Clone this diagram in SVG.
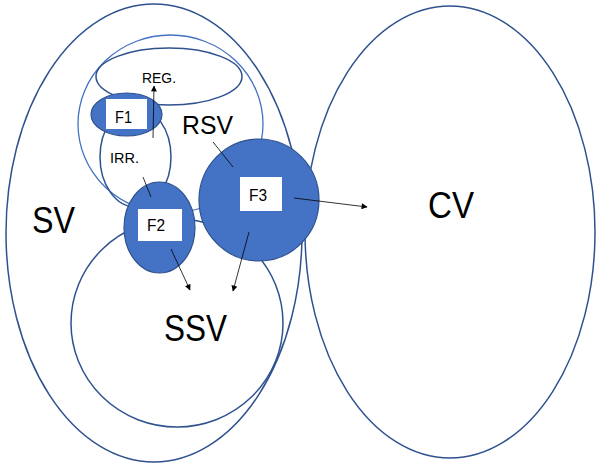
<svg xmlns="http://www.w3.org/2000/svg" width="596" height="467" viewBox="0 0 596 467">
  <style>
    .set { fill: none; stroke: #2F528F; stroke-width: 1.5; }
    .setlight { fill: none; stroke: #4472C4; stroke-width: 1.3; }
    .fn { fill: #4472C4; stroke: #2F528F; stroke-width: 1.2; }
    .box { fill: #FFFFFF; stroke: none; }
    .lbl { font-family: "Liberation Sans", Arial, sans-serif; fill: #000000; }
    .small { font-size: 14px; }
    .flbl { font-size: 16px; }
    .big { font-size: 37px; }
    .conn { stroke: #000000; stroke-width: 0.8; fill: none; }
  </style>
  <defs>
    <marker id="arrow" viewBox="0 0 10 10" refX="9" refY="5" markerWidth="7" markerHeight="6" markerUnits="userSpaceOnUse" orient="auto">
      <path d="M0,0 L10,5 L0,10 z" fill="#000000"/>
    </marker>
  </defs>

  <rect width="596" height="467" fill="#FFFFFF"/>

  <!-- outer sets -->
  <g id="sv">
    <ellipse class="set" cx="154" cy="233" rx="148" ry="229"/>
    <text class="lbl big" x="32" y="233" textLength="43" lengthAdjust="spacingAndGlyphs">SV</text>
  </g>
  <g id="cv">
    <ellipse class="set" cx="450" cy="232" rx="145" ry="226"/>
    <text class="lbl big" x="428" y="218" textLength="46" lengthAdjust="spacingAndGlyphs">CV</text>
  </g>

  <!-- regular set values -->
  <g id="rsv">
    <ellipse class="setlight" cx="170.5" cy="124" rx="92.5" ry="89"/>
    <text class="lbl" font-size="26" x="182" y="134" textLength="51" lengthAdjust="spacingAndGlyphs">RSV</text>
  </g>
  <g id="reg">
    <ellipse class="set" cx="169" cy="76.5" rx="73" ry="28.5"/>
    <text class="lbl small" x="142" y="83" textLength="34" lengthAdjust="spacingAndGlyphs">REG.</text>
  </g>
  <g id="irr">
    <ellipse class="set" cx="135.5" cy="157" rx="35.5" ry="50"/>
    <text class="lbl small" x="110" y="163" textLength="29" lengthAdjust="spacingAndGlyphs">IRR.</text>
  </g>

  <!-- single set values -->
  <g id="ssv">
    <ellipse class="set" cx="177" cy="323" rx="106" ry="104"/>
    <text class="lbl big" x="164" y="341" textLength="63" lengthAdjust="spacingAndGlyphs">SSV</text>
  </g>

  <!-- functions -->
  <g id="f1">
    <ellipse class="fn" cx="126.5" cy="114.5" rx="35.5" ry="21.5"/>
    <rect class="box" x="106" y="99" width="41" height="30"/>
    <text class="lbl flbl" x="115" y="123" textLength="17" lengthAdjust="spacingAndGlyphs">F1</text>
  </g>
  <g id="f2">
    <ellipse class="fn" cx="159.5" cy="227.5" rx="35.5" ry="45.5"/>
    <rect class="box" x="138" y="209" width="44" height="32"/>
    <text class="lbl flbl" x="147" y="231" textLength="18" lengthAdjust="spacingAndGlyphs">F2</text>
  </g>
  <g id="f3">
    <ellipse class="fn" cx="259" cy="200" rx="60" ry="61"/>
    <rect class="box" x="240" y="177" width="42" height="34"/>
    <text class="lbl flbl" x="249" y="201" textLength="18" lengthAdjust="spacingAndGlyphs">F3</text>
  </g>

  <!-- connectors and leader lines -->
  <g id="connectors">
    <line class="conn" x1="153" y1="138" x2="154" y2="86" marker-end="url(#arrow)"/>
    <line class="conn" x1="143" y1="177" x2="151" y2="197"/>
    <line class="conn" x1="213" y1="142" x2="233" y2="167"/>
    <line class="conn" x1="171" y1="249" x2="190" y2="290" marker-end="url(#arrow)"/>
    <line class="conn" x1="249" y1="232" x2="233" y2="291" marker-end="url(#arrow)"/>
    <line class="conn" x1="294" y1="198" x2="367" y2="207" marker-end="url(#arrow)"/>
  </g>
</svg>
